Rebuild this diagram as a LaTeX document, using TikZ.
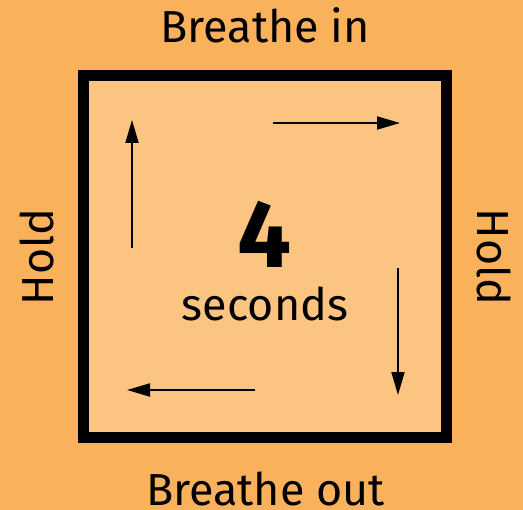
\documentclass[tikz,border=0pt]{standalone}
\usepackage{fontspec}
\setmainfont{Fira Sans}
\usepackage{tikz}
\usetikzlibrary{arrows.meta}
\definecolor{boxout}{HTML}{FAB15C}
\definecolor{boxin}{HTML}{FBC480}
\tikzset{
  breath/.style={font=\fontsize{45}{50}\selectfont, inner sep=0pt},
  flow/.style={line width=2bp, -{Triangle[length=23bp, width=13bp]}},
}

\begin{document}
\begin{tikzpicture}[x=1bp, y=-1bp]

  % -- page and the box ---------------------------------------------------
  \fill[boxout] (0,0) rectangle (523,510);
  \useasboundingbox (0,0) rectangle (523,510);
  \draw[line width=11bp, fill=boxin] (83.5,75.5) rectangle (446.5,437.5);

  % -- the four sides (base lines) ------------------------------------------
  \node[breath, anchor=base] (tin)  at (265,43)  {Breathe in};
  \node[breath, anchor=base] (tout) at (265.5,505) {Breathe out};
  \node[breath, rotate=90]  (hl) at (37,257)  {Hold};
  \node[breath, rotate=-90] (hr) at (494,257) {Hold};

  % -- the count in the middle --------------------------------------------
  \node[font=\fontsize{96}{96}\selectfont\bfseries, inner sep=0pt, anchor=base] (four) at (265,267) {4};
  \node[breath, anchor=base] (sec) at (265,320) {seconds};

  % -- arrows, round the square -------------------------------------------
  \coordinate (ua) at (132,248);  \coordinate (ub) at (132,120);
  \coordinate (ra) at (273,123);  \coordinate (rb) at (400,123);
  \coordinate (da) at (398,268);  \coordinate (db) at (398,395);
  \coordinate (la) at (255,390);  \coordinate (lb) at (127,390);
  \draw[flow] (ua) -- (ub);
  \draw[flow] (ra) -- (rb);
  \draw[flow] (da) -- (db);
  \draw[flow] (la) -- (lb);

\end{tikzpicture}
\end{document}
